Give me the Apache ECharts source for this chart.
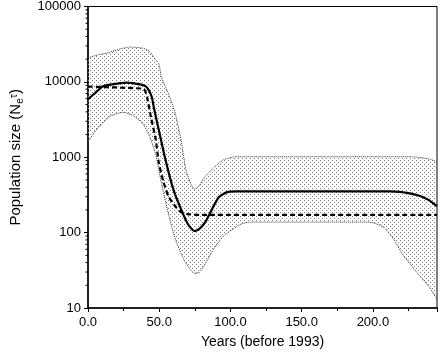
<!DOCTYPE html>
<html>
<head>
<meta charset="utf-8">
<script src="https://cdn.jsdelivr.net/npm/echarts@6/dist/echarts.min.js"></script>
<style>
  html, body { margin: 0; padding: 0; background: #fff; }
  #chart { width: 440px; height: 354px; }
</style>
</head>
<body>
<div id="chart"></div>
<script>
// years before 1993, population size (log scale)
var medianLine = [[0,5850],[5.4,7230],[10.2,8670],[15.6,9200],[27.2,9790],[37.4,9200],[40.8,8670],
  [42.8,7680],[44.9,6210],[46.2,4590],[49.7,2300],[54.4,927],[59.9,375],[65.3,205],[70.1,130],
  [74.8,105],[78.2,112],[82.3,138],[87.1,205],[91.8,294],[97.3,342],[104,353],[212,353],
  [219,348],[224,337],[229,322],[234,302],[239,272],[245,224]];
var modeLine = [[0,8670],[38,8150],[40,7700],[41.5,6210],[44.2,3400],[47.6,1700],[49.7,847],
  [53.1,463],[56.5,303],[61.2,224],[65.3,187],[70.1,176],[80,172],[245,172]];
var upperBound = [[0,20800],[6.8,22800],[13.6,24200],[22.4,27300],[29.3,28970],[38.1,28100],
  [42.9,25700],[46.9,20200],[49.7,17300],[51.7,11400],[56.5,7010],[61.2,3840],[65.3,1700],
  [68.7,686],[72.1,449],[74.8,375],[78.2,423],[81.6,538],[88.4,728],[95.2,927],[104,1016],
  [226,1016],[233,995],[239,950],[245,873]];
var lowerBound = [[0,1600],[6.8,2440],[15.6,3500],[24.5,3950],[31.3,3610],[38.1,2830],
  [42.9,1970],[47.6,1080],[51.7,436],[56.5,176],[61.2,82.8],[68,41.3],[74.8,28.8],[78.2,29.6],
  [81.6,36.6],[88.4,61.2],[95.2,90.6],[102,112],[107.5,130],[114.3,138],[197.3,138],
  [202.7,130],[208.2,116],[214.5,82],[221.3,50],[230,31],[239.5,19],[245,13]];
var yTickDecades = [10, 100, 1000, 10000];
var yMinorSteps = [2, 3, 4, 5, 6, 7, 8, 9];

var FONT = 'Liberation Sans';

// stipple fill for the band
var pc = document.createElement('canvas');
pc.width = 4; pc.height = 4;
var pctx = pc.getContext('2d');
pctx.fillStyle = '#7a7a7a';
pctx.fillRect(0, 0, 1, 1);
pctx.fillRect(2, 2, 1, 1);
var stipple = { image: pc, repeat: 'repeat' };

var minorTickValues = [];
yTickDecades.forEach(function (d) {
  yMinorSteps.forEach(function (m) { minorTickValues.push([0, d * m]); });
});

var chart = echarts.init(document.getElementById('chart'), null, { renderer: 'canvas', devicePixelRatio: 1 });

var option = {
  animation: false,
  grid: { left: 76, right: 3, top: 5, bottom: 43, show: true, borderColor: '#000', borderWidth: 1 },
  xAxis: {
    type: 'value', min: 0, max: 245, interval: 50,
    name: 'Years (before 1993)', nameLocation: 'middle', nameGap: 27,
    nameTextStyle: { fontFamily: FONT, fontSize: 14, color: '#000' },
    axisLine: { lineStyle: { color: '#000', width: 1.5 } },
    axisTick: { inside: false, length: 4, lineStyle: { color: '#000' } },
    minorTick: { show: true, splitNumber: 2, length: 3, lineStyle: { color: '#000' } },
    splitLine: { show: false },
    axisLabel: { fontFamily: FONT, fontSize: 13, color: '#000', margin: 8, showMaxLabel: false,
      formatter: function (v) { return v.toFixed(1); } }
  },
  yAxis: {
    type: 'log', logBase: 10, min: 10, max: 100000,
    name: '{a|Population size (N}{s|e}{t|τ}{a|)}', nameLocation: 'middle', nameGap: 63, nameRotate: 90,
    nameTextStyle: { fontFamily: FONT, fontSize: 15, color: '#000',
      rich: {
        a: { fontFamily: FONT, fontSize: 15, color: '#000' },
        s: { fontFamily: FONT, fontSize: 10, color: '#000', padding: [9, 0, 0, 0] },
        t: { fontFamily: FONT, fontSize: 11, color: '#000', padding: [0, 0, 4, 0] }
      } },
    axisLine: { lineStyle: { color: '#000', width: 1.5 } },
    axisTick: { inside: false, length: 4, lineStyle: { color: '#000' } },
    minorTick: { show: false },
    splitLine: { show: false },
    axisLabel: { fontFamily: FONT, fontSize: 13, color: '#000', margin: 7,
      formatter: function (v) { return String(Math.round(v)); } }
  },
  series: [
    {
      type: 'custom', z: 1, clip: true,
      data: [[0, 10]],
      renderItem: function (params, api) {
        var pts = upperBound.map(function (p) { return api.coord(p); })
          .concat(lowerBound.slice().reverse().map(function (p) { return api.coord(p); }));
        return { type: 'polygon', shape: { points: pts }, style: { fill: stipple, stroke: null } };
      }
    },
    {
      // logarithmic minor ticks on the y axis
      type: 'custom', z: 5, clip: false, silent: true,
      data: minorTickValues,
      renderItem: function (params, api) {
        var p = api.coord([api.value(0), api.value(1)]);
        return { type: 'line', shape: { x1: p[0] - 2.5, y1: p[1], x2: p[0], y2: p[1] },
          style: { stroke: '#000', lineWidth: 1 } };
      }
    },
    { type: 'line', data: upperBound, symbol: 'none', smooth: 0.2, z: 2,
      lineStyle: { color: '#333', width: 1, type: 'dotted' } },
    { type: 'line', data: lowerBound, symbol: 'none', smooth: 0.2, z: 2,
      lineStyle: { color: '#333', width: 1, type: 'dotted' } },
    { type: 'line', data: modeLine, symbol: 'none', smooth: 0.2, z: 3,
      lineStyle: { color: '#000', width: 2.2, type: [5, 3] } },
    { type: 'line', data: medianLine, symbol: 'none', smooth: 0.2, z: 4,
      lineStyle: { color: '#000', width: 2.2 } }
  ]
};
chart.setOption(option);
</script>
</body>
</html>
